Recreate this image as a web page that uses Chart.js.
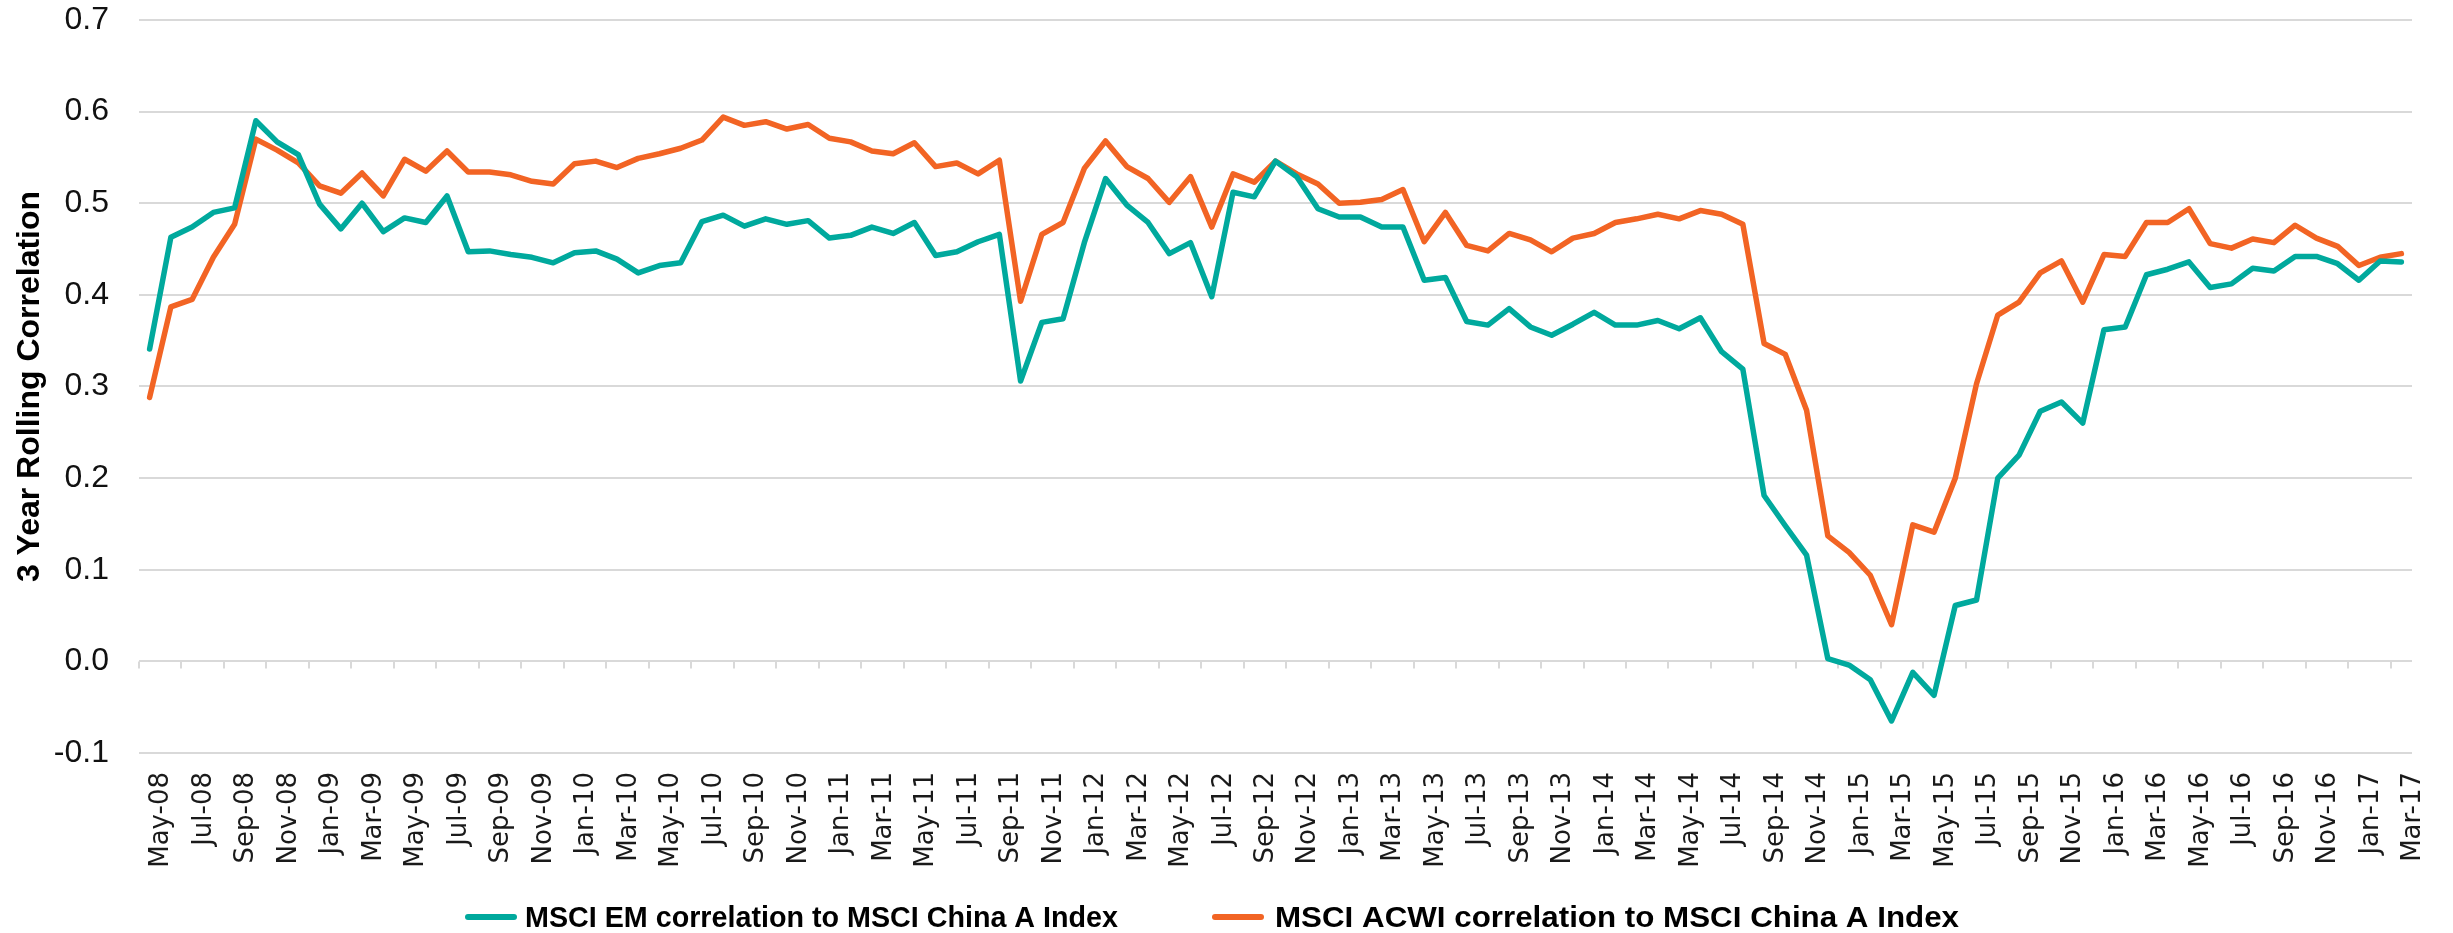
<!DOCTYPE html>
<html>
<head>
<meta charset="utf-8">
<script src="https://cdn.jsdelivr.net/npm/chart.js@4.4.1/dist/chart.umd.min.js"></script>
<style>
  html, body { margin: 0; padding: 0; background: #ffffff; }
  #wrap { width: 2453px; height: 933px; position: relative; }
</style>
</head>
<body>
<div id="wrap"><canvas id="c" width="2453" height="933"></canvas></div>
<script>
// ---- Data ----
const months = [
  'May-08','Jun-08','Jul-08','Aug-08','Sep-08','Oct-08','Nov-08','Dec-08',
  'Jan-09','Feb-09','Mar-09','Apr-09','May-09','Jun-09','Jul-09','Aug-09','Sep-09','Oct-09','Nov-09','Dec-09',
  'Jan-10','Feb-10','Mar-10','Apr-10','May-10','Jun-10','Jul-10','Aug-10','Sep-10','Oct-10','Nov-10','Dec-10',
  'Jan-11','Feb-11','Mar-11','Apr-11','May-11','Jun-11','Jul-11','Aug-11','Sep-11','Oct-11','Nov-11','Dec-11',
  'Jan-12','Feb-12','Mar-12','Apr-12','May-12','Jun-12','Jul-12','Aug-12','Sep-12','Oct-12','Nov-12','Dec-12',
  'Jan-13','Feb-13','Mar-13','Apr-13','May-13','Jun-13','Jul-13','Aug-13','Sep-13','Oct-13','Nov-13','Dec-13',
  'Jan-14','Feb-14','Mar-14','Apr-14','May-14','Jun-14','Jul-14','Aug-14','Sep-14','Oct-14','Nov-14','Dec-14',
  'Jan-15','Feb-15','Mar-15','Apr-15','May-15','Jun-15','Jul-15','Aug-15','Sep-15','Oct-15','Nov-15','Dec-15',
  'Jan-16','Feb-16','Mar-16','Apr-16','May-16','Jun-16','Jul-16','Aug-16','Sep-16','Oct-16','Nov-16','Dec-16',
  'Jan-17','Feb-17','Mar-17'
];

const emCorrelation = [
  0.341, 0.463, 0.474, 0.490, 0.495, 0.590, 0.567, 0.553,
  0.499, 0.472, 0.500, 0.469, 0.484, 0.479, 0.508, 0.447, 0.448, 0.444, 0.441, 0.435,
  0.446, 0.448, 0.439, 0.424, 0.432, 0.435, 0.480, 0.487, 0.475, 0.483, 0.477, 0.481,
  0.462, 0.465, 0.474, 0.467, 0.479, 0.443, 0.447, 0.458, 0.466, 0.306, 0.370, 0.374,
  0.457, 0.527, 0.498, 0.479, 0.445, 0.457, 0.398, 0.512, 0.507, 0.546, 0.529, 0.494,
  0.485, 0.485, 0.474, 0.474, 0.416, 0.419, 0.371, 0.367, 0.385, 0.365, 0.356, 0.368,
  0.381, 0.367, 0.367, 0.372, 0.363, 0.375, 0.338, 0.319, 0.181, 0.148, 0.116, 0.003,
  -0.004, -0.020, -0.065, -0.012, -0.037, 0.061, 0.067, 0.200, 0.225, 0.273, 0.283, 0.260,
  0.362, 0.365, 0.422, 0.428, 0.436, 0.408, 0.412, 0.429, 0.426, 0.442, 0.442, 0.434,
  0.416, 0.437, 0.436
];

const acwiCorrelation = [
  0.288, 0.387, 0.395, 0.441, 0.477, 0.570, 0.558, 0.544,
  0.519, 0.511, 0.533, 0.508, 0.548, 0.535, 0.557, 0.534, 0.534, 0.531, 0.524, 0.521,
  0.543, 0.546, 0.539, 0.549, 0.554, 0.560, 0.569, 0.594, 0.585, 0.589, 0.581, 0.586,
  0.571, 0.567, 0.557, 0.554, 0.566, 0.540, 0.544, 0.532, 0.547, 0.393, 0.466, 0.479,
  0.538, 0.568, 0.540, 0.527, 0.501, 0.529, 0.474, 0.532, 0.523, 0.546, 0.532, 0.521,
  0.500, 0.501, 0.504, 0.515, 0.458, 0.490, 0.454, 0.448, 0.467, 0.460, 0.447, 0.462,
  0.467, 0.479, 0.483, 0.488, 0.483, 0.492, 0.488, 0.477, 0.347, 0.335, 0.274, 0.137,
  0.119, 0.094, 0.040, 0.149, 0.141, 0.200, 0.303, 0.378, 0.392, 0.424, 0.437, 0.392,
  0.444, 0.442, 0.479, 0.479, 0.494, 0.456, 0.451, 0.461, 0.457, 0.476, 0.462, 0.453,
  0.432, 0.441, 0.445
];

const seriesNames = [
  'MSCI EM correlation to MSCI China A Index',
  'MSCI ACWI correlation to MSCI China A Index'
];
const yTickValues = [-0.1, 0.0, 0.1, 0.2, 0.3, 0.4, 0.5, 0.6, 0.7];
const yTitle = '3 Year Rolling Correlation';

// ---- Styles ----
const TEAL = '#00A99D';
const ORANGE = '#F26424';
const GRID = '#d9d9d9';

// Tick marks on the zero line, every second category boundary
const zeroTicks = {
  id: 'zeroTicks',
  beforeDatasetsDraw(chart) {
    const x = chart.scales.x, y = chart.scales.y, ctx = chart.ctx;
    const half = (x.getPixelForValue(1) - x.getPixelForValue(0)) / 2;
    const y0 = y.getPixelForValue(0);
    ctx.save();
    ctx.strokeStyle = GRID;
    ctx.lineWidth = 2;
    for (let k = 0; k < months.length; k += 2) {
      const px = Math.round(x.getPixelForValue(k) - half);
      ctx.beginPath();
      ctx.moveTo(px, y0);
      ctx.lineTo(px, y0 + 7);
      ctx.stroke();
    }
    ctx.restore();
  }
};

// Bottom legend (line sample + bold label), each label fitted to the reference width
const legendLayout = [
  { lineX: 465, textX: 525, textW: 593 },
  { lineX: 1212, textX: 1275, textW: 684 }
];
const bottomLegend = {
  id: 'bottomLegend',
  afterDraw(chart) {
    const ctx = chart.ctx;
    const colors = [TEAL, ORANGE];
    ctx.save();
    ctx.font = 'bold 29px "Liberation Sans", Arial, sans-serif';
    ctx.textBaseline = 'alphabetic';
    ctx.fillStyle = '#000';
    const lineY = 917, textBase = 927;
    seriesNames.forEach((name, i) => {
      const L = legendLayout[i];
      ctx.strokeStyle = colors[i];
      ctx.lineWidth = 6;
      ctx.lineCap = 'round';
      ctx.beginPath();
      ctx.moveTo(L.lineX + 3, lineY);
      ctx.lineTo(L.lineX + 49, lineY);
      ctx.stroke();
      const w = ctx.measureText(name).width;
      ctx.save();
      ctx.translate(L.textX, textBase);
      ctx.scale(L.textW / w, 1);
      ctx.fillText(name, 0, 0);
      ctx.restore();
    });
    ctx.restore();
  }
};

new Chart(document.getElementById('c'), {
  type: 'line',
  data: {
    labels: months,
    datasets: [
      { label: seriesNames[0], data: emCorrelation, borderColor: TEAL, backgroundColor: TEAL,
        borderWidth: 5.5, pointRadius: 0, tension: 0, borderJoinStyle: 'round', borderCapStyle: 'round' },
      { label: seriesNames[1], data: acwiCorrelation, borderColor: ORANGE, backgroundColor: ORANGE,
        borderWidth: 5.5, pointRadius: 0, tension: 0, borderJoinStyle: 'round', borderCapStyle: 'round' }
    ]
  },
  options: {
    responsive: false,
    animation: false,
    devicePixelRatio: 1,
    layout: { padding: { top: 20, right: 41, bottom: 0, left: 0 } },
    plugins: { legend: { display: false }, tooltip: { enabled: false } },
    scales: {
      x: {
        type: 'category',
        offset: true,
        grid: { display: false, drawTicks: false },
        border: { display: false },
        ticks: {
          autoSkip: false,
          minRotation: 90,
          maxRotation: 90,
          padding: 19,
          labelOffset: 12,
          color: '#1a1a1a',
          font: { family: '"DejaVu Sans", sans-serif', size: 26 },
          callback: (v, i) => (i % 2 === 0 ? months[i] : '')
        },
        afterFit: (s) => { s.height = 180; s.paddingLeft = 0; s.paddingRight = 0; }
      },
      y: {
        min: yTickValues[0],
        max: yTickValues[yTickValues.length - 1],
        afterBuildTicks: (s) => { s.ticks = yTickValues.map(v => ({ value: v })); },
        grid: { color: GRID, lineWidth: 2, drawTicks: false },
        border: { display: false },
        ticks: {
          padding: 30,
          color: '#111',
          font: { family: '"Liberation Sans", Arial, sans-serif', size: 32 },
          callback: (v) => Number(v).toFixed(1)
        },
        title: {
          display: true,
          text: yTitle,
          color: '#000',
          padding: { top: 11, bottom: 0 },
          font: { family: '"Liberation Sans", Arial, sans-serif', size: 32, weight: 'bold' }
        },
        afterFit: (s) => { s.width = 139; s.paddingTop = 0; s.paddingBottom = 0; }
      }
    }
  },
  plugins: [zeroTicks, bottomLegend]
});
</script>
</body>
</html>
